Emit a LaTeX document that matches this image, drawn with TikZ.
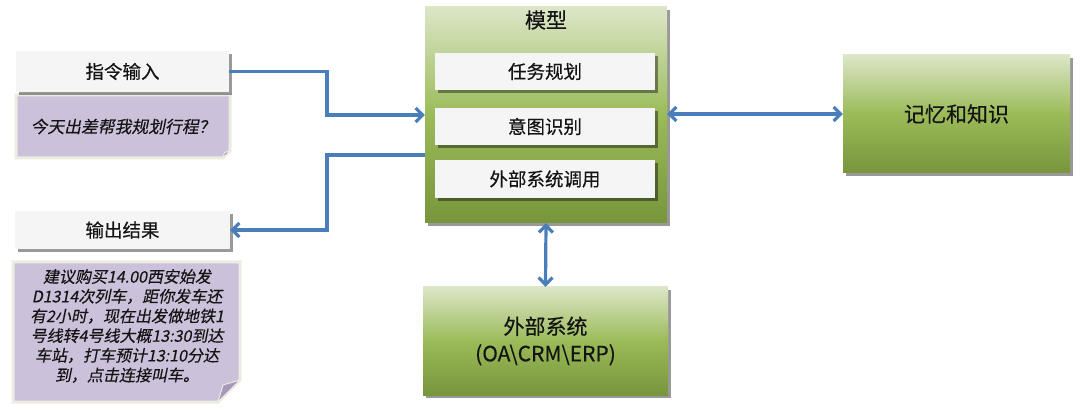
\documentclass[tikz,border=0pt]{standalone}
\usepackage{fontspec}
\setmainfont{Noto Sans CJK SC}[FakeBold=0.4]
\newfontfamily\slantcjk[FakeSlant=0.2,FakeBold=0.3]{Noto Sans CJK SC}
\usetikzlibrary{arrows.meta,shadows}
\definecolor{boxwhite}{HTML}{F5F5F5}
\definecolor{notepurple}{HTML}{CCC1DA}
\definecolor{noteedge}{HTML}{EEECE1}
\definecolor{flapc}{HTML}{A898BE}
\definecolor{gtop}{HTML}{DCE6C8}
\definecolor{gmid}{HTML}{9BBB59}
\definecolor{gbot}{HTML}{77953B}
\definecolor{arrblue}{HTML}{4A7EBB}
\definecolor{txt}{HTML}{141414}
\tikzset{
  shad/.style={drop shadow={shadow xshift=3pt,shadow yshift=-3pt,opacity=0.4,fill=black}},
  wbox/.style={rectangle,fill=boxwhite,inner sep=0pt,shad,text=txt,font=\fontsize{18.5}{20}\selectfont},
  gbox/.style={rectangle,top color=gtop,bottom color=gbot,middle color=gmid,inner sep=0pt,shad,text=txt,font=\fontsize{21}{27}\selectfont,align=center},
  notebody/.style={fill=notepurple,draw=noteedge,line width=3pt,line join=miter},
  flap/.style={fill=flapc,draw=noteedge,line width=1pt},
  notetext/.style={inner sep=0pt,text=txt,align=center,font=\fontsize{16}{19.7}\selectfont\slantcjk},
  arr/.style={draw=arrblue,line width=3.2pt,-{Straight Barb[length=7pt,width=14pt]}},
  arrb/.style={draw=arrblue,line width=3.2pt,{Straight Barb[length=7pt,width=14pt]}-{Straight Barb[length=7pt,width=14pt]}}
}
\begin{document}
\begin{tikzpicture}[x=1pt,y=-1pt]
\useasboundingbox (0,0) rectangle (1080,414);
% notes
\filldraw[notebody] (16,95) -- (230,95) -- (230,151) -- (223,158) -- (16,158) -- cycle;
\filldraw[flap] (230,151) -- (223,158) -- (224.5,152.5) -- cycle;
\filldraw[notebody] (13,262) -- (240,262) -- (240,380) -- (218,402) -- (13,402) -- cycle;
\filldraw[flap] (240,380) -- (218,402) -- (223,385) -- cycle;
\node[notetext,font=\fontsize{16.8}{20}\selectfont\slantcjk] (q1) at (123,126.5) {今天出差帮我规划行程？};
\node[notetext] (a1) at (127,326) {建议购买14.00西安始发\\D1314次列车，距你发车还\\有2小时，现在出发做地铁1\\号线转4号线大概13:30到达\\车站，打车预计13:10分达\\到，点击连接叫车。};
% white boxes
\node[wbox,minimum width=213pt,minimum height=41pt] (cmdin) at (122.5,71.5) {指令输入};
\node[wbox,minimum width=215pt,minimum height=38pt] (outres) at (122.5,230) {输出结果};
% model
\node[gbox,minimum width=242pt,minimum height=216pt] (model) at (546,115) {};
\node[text=txt,font=\fontsize{21}{24}\selectfont,inner sep=0pt] (mtitle) at (546,20) {模型};
\node[wbox,minimum width=220pt,minimum height=37pt] (plan) at (545,71.5) {任务规划};
\node[wbox,minimum width=220pt,minimum height=37pt] (intent) at (545,126.5) {意图识别};
\node[wbox,minimum width=220pt,minimum height=38pt] (call) at (545,179) {外部系统调用};
% others
\node[gbox,minimum width=245pt,minimum height=108pt] (ext) at (545.5,341) {外部系统\\(OA\textbackslash CRM\textbackslash ERP)};
\node[gbox,minimum width=227pt,minimum height=118pt] (mem) at (956.5,114) {记忆和知识};
% connectors
\coordinate (k1) at (327,0);
\coordinate (m2) at (425,155);
\draw[arr] (cmdin.east) -| (k1 |- model.west) -- (model.west);
\draw[arr] (m2) -| (k1 |- outres.east) -- (outres.east);
\draw[arrb] (model.east |- mem.west) -- (mem.west);
\draw[arrb] (model.south) -- (ext.north);
\end{tikzpicture}
\end{document}
